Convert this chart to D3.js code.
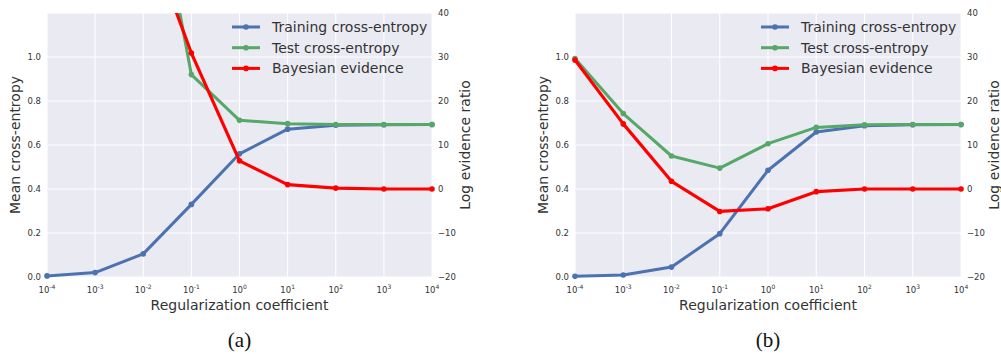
<!DOCTYPE html>
<html><head><meta charset="utf-8">
<script src="https://cdn.jsdelivr.net/npm/d3@7"></script>
<style>body{margin:0;background:#fff;} svg{display:block;}</style>
</head><body>
<svg id="chart" width="1001" height="354"></svg>
<script>
// ---- data ----
const regCoef = [1e-4, 1e-3, 1e-2, 1e-1, 1, 10, 100, 1000, 10000];
const xTickExps = [-4, -3, -2, -1, 0, 1, 2, 3, 4];
const leftTicks = [0.0, 0.2, 0.4, 0.6, 0.8, 1.0];
const rightTicks = [-20, -10, 0, 10, 20, 30, 40];
const seriesNames = ["Training cross-entropy", "Test cross-entropy", "Bayesian evidence"];
const panelLabels = ["(a)", "(b)"];

const trainA = [0.005, 0.02, 0.105, 0.33, 0.56, 0.672, 0.69, 0.692, 0.693];
const testA  = [3.6, 2.8, 2.09, 0.92, 0.712, 0.697, 0.693, 0.693, 0.693];
const evidA  = [95, 78, 60.5, 30.9, 6.4, 1.0, 0.2, 0.0, 0.0];

const trainB = [0.003, 0.009, 0.045, 0.197, 0.485, 0.659, 0.688, 0.692, 0.693];
const testB  = [0.993, 0.743, 0.55, 0.495, 0.606, 0.68, 0.692, 0.693, 0.693];
const evidB  = [29.3, 14.8, 1.75, -5.1, -4.5, -0.6, 0.0, 0.0, 0.0];

const colors = ["#4C72B0", "#55A868", "#FF0000"];

const svg = d3.select("#chart");
const font = "DejaVu Sans, sans-serif";
const textCol = "#333333";

function panel(idx, left, right, train, test, evid) {
  const top = 13, bottom = 277;
  const x = d3.scaleLog().domain([1e-4, 1e4]).range([left, right]);
  const yL = d3.scaleLinear().domain([0, 1.2]).range([bottom, top]);
  const yR = d3.scaleLinear().domain([-20, 40]).range([bottom, top]);
  const g = svg.append("g");

  g.append("rect").attr("x", left).attr("y", top).attr("width", right - left).attr("height", bottom - top).attr("fill", "#EAEAF2");

  // grid
  g.selectAll(".vg").data(regCoef).join("line")
    .attr("x1", d => x(d)).attr("x2", d => x(d)).attr("y1", top).attr("y2", bottom)
    .attr("stroke", "#fff").attr("stroke-width", 1);
  g.selectAll(".hg").data(rightTicks).join("line")
    .attr("x1", left).attr("x2", right).attr("y1", d => yR(d)).attr("y2", d => yR(d))
    .attr("stroke", "#fff").attr("stroke-width", 1);

  const clipId = "clip" + idx;
  svg.append("clipPath").attr("id", clipId).append("rect")
    .attr("x", left - 5).attr("y", top).attr("width", right - left + 10).attr("height", bottom - top + 5);

  const series = [
    {vals: train, y: yL, c: colors[0], w: 3},
    {vals: test, y: yL, c: colors[1], w: 3},
    {vals: evid, y: yR, c: colors[2], w: 3.2}
  ];
  const lg = g.append("g").attr("clip-path", `url(#${clipId})`);
  series.forEach(s => {
    const line = d3.line().x((d, i) => x(regCoef[i])).y(d => s.y(d));
    lg.append("path").datum(s.vals).attr("d", line)
      .attr("fill", "none").attr("stroke", s.c).attr("stroke-width", s.w).attr("stroke-linejoin", "round");
    lg.selectAll(null).data(s.vals).join("circle")
      .attr("cx", (d, i) => x(regCoef[i])).attr("cy", d => s.y(d)).attr("r", 2.8).attr("fill", s.c);
  });

  // x ticks
  const xt = g.selectAll(".xt").data(xTickExps).join("text")
    .attr("x", d => x(Math.pow(10, d))).attr("y", 293)
    .attr("text-anchor", "middle").attr("font-family", font).attr("font-size", 8.5).attr("fill", textCol);
  xt.append("tspan").text("10");
  xt.append("tspan").attr("dy", -4).attr("font-size", 6).text(d => d < 0 ? "-" + Math.abs(d) : d);

  // left ticks
  g.selectAll(".lt").data(leftTicks).join("text")
    .attr("x", left - 6).attr("y", d => yL(d) + 3)
    .attr("text-anchor", "end").attr("font-family", font).attr("font-size", 8.5).attr("fill", textCol)
    .text(d => d.toFixed(1));
  // right ticks
  g.selectAll(".rt").data(rightTicks).join("text")
    .attr("x", right + 6).attr("y", d => yR(d) + 3)
    .attr("text-anchor", "start").attr("font-family", font).attr("font-size", 8.5).attr("fill", textCol)
    .text(d => d < 0 ? "\u2212" + Math.abs(d) : d);

  // axis titles
  g.append("text").attr("x", (left + right) / 2).attr("y", 310)
    .attr("text-anchor", "middle").attr("font-family", font).attr("font-size", 14).attr("fill", textCol)
    .text("Regularization coefficient");
  g.append("text").attr("transform", `translate(${left - 27},${(top + bottom) / 2}) rotate(-90)`)
    .attr("text-anchor", "middle").attr("font-family", font).attr("font-size", 14).attr("fill", textCol)
    .text("Mean cross-entropy");
  g.append("text").attr("transform", `translate(${right + 38},${(top + bottom) / 2}) rotate(-90)`)
    .attr("text-anchor", "middle").attr("font-family", font).attr("font-size", 14).attr("fill", textCol)
    .text("Log evidence ratio");

  // legend
  const lx = right - 200, ly0 = 27, dy = 20.7;
  seriesNames.forEach((n, i) => {
    const yy = ly0 + i * dy;
    g.append("line").attr("x1", lx).attr("x2", lx + 28).attr("y1", yy).attr("y2", yy)
      .attr("stroke", colors[i]).attr("stroke-width", 3);
    g.append("circle").attr("cx", lx + 14).attr("cy", yy).attr("r", 2.8).attr("fill", colors[i]);
    g.append("text").attr("x", lx + 40).attr("y", yy + 5)
      .attr("font-family", font).attr("font-size", 14).attr("fill", textCol).text(n);
  });

  // panel label
  svg.append("text").attr("x", (left + right) / 2).attr("y", 347)
    .attr("text-anchor", "middle").attr("font-family", "Liberation Serif, DejaVu Serif, serif")
    .attr("font-size", 21).attr("fill", "#111").text(panelLabels[idx]);
}

panel(0, 47, 432, trainA, testA, evidA);
panel(1, 575, 961, trainB, testB, evidB);
</script>
</body></html>
